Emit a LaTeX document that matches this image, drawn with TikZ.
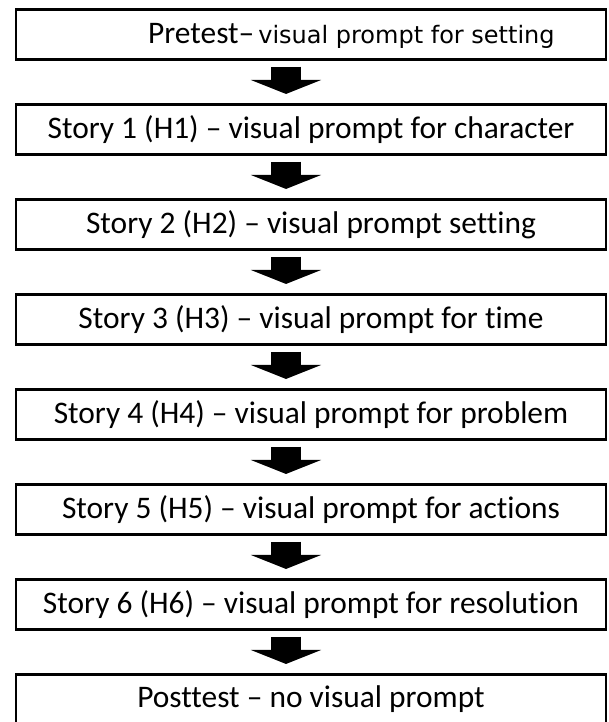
\documentclass[tikz,border=0pt]{standalone}
\usepackage{fontspec}
\setmainfont{Carlito}[RawFeature={-liga}]
\newfontfamily\dejavu{DejaVu Sans}
\usetikzlibrary{arrows.meta,calc}
\tikzset{
  x=1pt, y=-1pt,
  stagebox/.style={draw=black, line width=2.6pt, fill=white, minimum width=590pt, minimum height=50.5pt, inner sep=0pt,
    font=\fontsize{31.4}{36}\selectfont},
  bigarrow/.style={line width=30pt, -{Triangle[width=70pt,length=14pt]}, black}
}
\begin{document}
\begin{tikzpicture}
\useasboundingbox (0,0) rectangle (609,722);
\node[stagebox] (b0) at (311,34.5) {};
\node[anchor=base west, inner sep=0pt] (t0) at (148,44)
  {\fontsize{31.4}{36}\selectfont Pretest–\hspace{4pt}{\dejavu\fontsize{24}{28}\selectfont visual prompt for setting}};
\node[stagebox] (b1) at (311,129.5) {Story 1 (H1) – visual prompt for character};
\node[stagebox] (b2) at (311,224.5) {Story 2 (H2) – visual prompt setting};
\node[stagebox] (b3) at (311,319.5) {Story 3 (H3) – visual prompt for time};
\node[stagebox] (b4) at (311,414.5) {Story 4 (H4) – visual prompt for problem};
\node[stagebox] (b5) at (311,509.5) {Story 5 (H5) – visual prompt for actions};
\node[stagebox] (b6) at (311,604.5) {Story 6 (H6) – visual prompt for resolution};
\node[stagebox] (b7) at (311,699.5) {Posttest – no visual prompt};
\foreach \a/\b in {b0/b1,b1/b2,b2/b3,b3/b4,b4/b5,b5/b6,b6/b7}{
  \draw[bigarrow] ($(\a.south)+(-25,5.5)$) -- ($(\b.north)+(-25,-9)$);
}
\end{tikzpicture}
\end{document}
